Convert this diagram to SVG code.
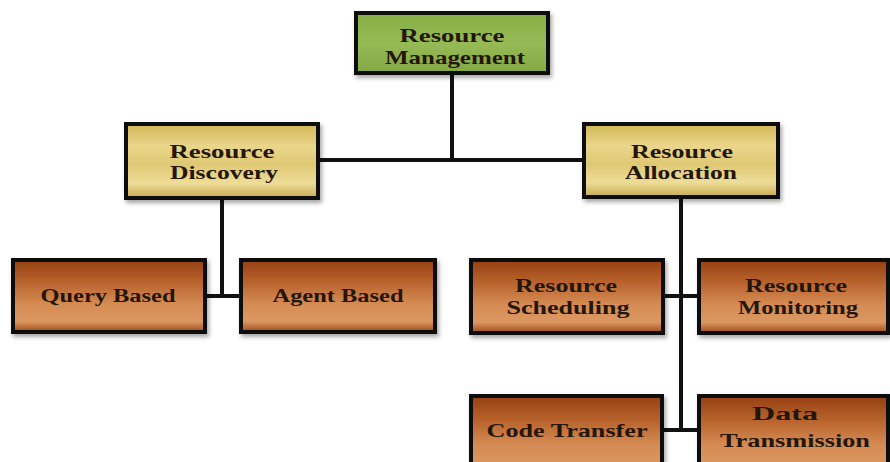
<svg xmlns="http://www.w3.org/2000/svg" width="890" height="462" viewBox="0 0 890 462">
  <defs>
    <linearGradient id="gGreen" x1="0" y1="0" x2="0" y2="1">
      <stop offset="0" stop-color="#86ad45"/>
      <stop offset="0.5" stop-color="#96bb55"/>
      <stop offset="1" stop-color="#84a844"/>
    </linearGradient>
    <linearGradient id="gGold" x1="0" y1="0" x2="0" y2="1">
      <stop offset="0" stop-color="#d0b656"/>
      <stop offset="0.3" stop-color="#ead68a"/>
      <stop offset="0.55" stop-color="#dfc874"/>
      <stop offset="0.8" stop-color="#eedd98"/>
      <stop offset="1" stop-color="#c6aa4e"/>
    </linearGradient>
    <linearGradient id="gBrown" x1="0" y1="0" x2="0" y2="1">
      <stop offset="0" stop-color="#953f12"/>
      <stop offset="0.3" stop-color="#b8622c"/>
      <stop offset="0.6" stop-color="#d48a52"/>
      <stop offset="0.85" stop-color="#dc9862"/>
      <stop offset="1" stop-color="#9e4a1a"/>
    </linearGradient>
    <filter id="shadow" x="-5%" y="-10%" width="115%" height="130%">
      <feDropShadow dx="2" dy="3" stdDeviation="2" flood-color="#000" flood-opacity="0.35"/>
    </filter>
  </defs>
  <style>
    .box { stroke: #111; stroke-width: 4; filter: url(#shadow); }
    .green { fill: url(#gGreen); }
    .gold { fill: url(#gGold); }
    .brown { fill: url(#gBrown); }
    .lbl { font-family: "Liberation Serif", "Times New Roman", serif; font-weight: bold; font-size: 19px; fill: #24160a; text-anchor: middle; }
    .wire { stroke: #111; stroke-width: 4; fill: none; }
  </style>
  <rect width="890" height="462" fill="#ffffff"/>

  <!-- connectors -->
  <g id="connectors">
    <line class="wire" x1="452" y1="73" x2="452" y2="160"/>
    <line class="wire" x1="318" y1="160" x2="583" y2="160"/>
    <line class="wire" x1="222" y1="198" x2="222" y2="296"/>
    <line class="wire" x1="205" y1="296" x2="240" y2="296"/>
    <line class="wire" x1="681" y1="197" x2="681" y2="430"/>
    <line class="wire" x1="663" y1="296" x2="698" y2="296"/>
    <line class="wire" x1="662" y1="430" x2="698" y2="430"/>
  </g>

  <g id="resource-management">
    <rect class="box green" x="356" y="13" width="192" height="60"/>
    <text class="lbl" x="452" y="42" textLength="105" lengthAdjust="spacingAndGlyphs">Resource</text>
    <text class="lbl" x="455" y="64" textLength="140" lengthAdjust="spacingAndGlyphs">Management</text>
  </g>

  <g id="resource-discovery">
    <rect class="box gold" x="126" y="124" width="192" height="74"/>
    <text class="lbl" x="222" y="158" textLength="105" lengthAdjust="spacingAndGlyphs">Resource</text>
    <text class="lbl" x="224" y="179" textLength="108" lengthAdjust="spacingAndGlyphs">Discovery</text>
  </g>

  <g id="resource-allocation">
    <rect class="box gold" x="584" y="124" width="194" height="73"/>
    <text class="lbl" x="682" y="158" textLength="102" lengthAdjust="spacingAndGlyphs">Resource</text>
    <text class="lbl" x="681" y="179" textLength="112" lengthAdjust="spacingAndGlyphs">Allocation</text>
  </g>

  <g id="query-based">
    <rect class="box brown" x="13" y="260" width="192" height="72"/>
    <text class="lbl" x="108" y="302" textLength="135" lengthAdjust="spacingAndGlyphs">Query Based</text>
  </g>

  <g id="agent-based">
    <rect class="box brown" x="241" y="260" width="194" height="72"/>
    <text class="lbl" x="338" y="302" textLength="131" lengthAdjust="spacingAndGlyphs">Agent Based</text>
  </g>

  <g id="resource-scheduling">
    <rect class="box brown" x="471" y="260" width="192" height="73"/>
    <text class="lbl" x="566" y="292" textLength="102" lengthAdjust="spacingAndGlyphs">Resource</text>
    <text class="lbl" x="568" y="314" textLength="123" lengthAdjust="spacingAndGlyphs">Scheduling</text>
  </g>

  <g id="resource-monitoring">
    <rect class="box brown" x="699" y="260" width="189" height="73"/>
    <text class="lbl" x="796" y="292" textLength="102" lengthAdjust="spacingAndGlyphs">Resource</text>
    <text class="lbl" x="798" y="314" textLength="120" lengthAdjust="spacingAndGlyphs">Monitoring</text>
  </g>

  <g id="code-transfer">
    <rect class="box brown" x="471" y="396" width="191" height="80"/>
    <text class="lbl" x="567" y="437" textLength="161" lengthAdjust="spacingAndGlyphs">Code Transfer</text>
  </g>

  <g id="data-transmission">
    <rect class="box brown" x="699" y="396" width="189" height="80"/>
    <text class="lbl" x="785" y="420" textLength="66" lengthAdjust="spacingAndGlyphs">Data</text>
    <text class="lbl" x="795" y="447" textLength="150" lengthAdjust="spacingAndGlyphs">Transmission</text>
  </g>
</svg>
